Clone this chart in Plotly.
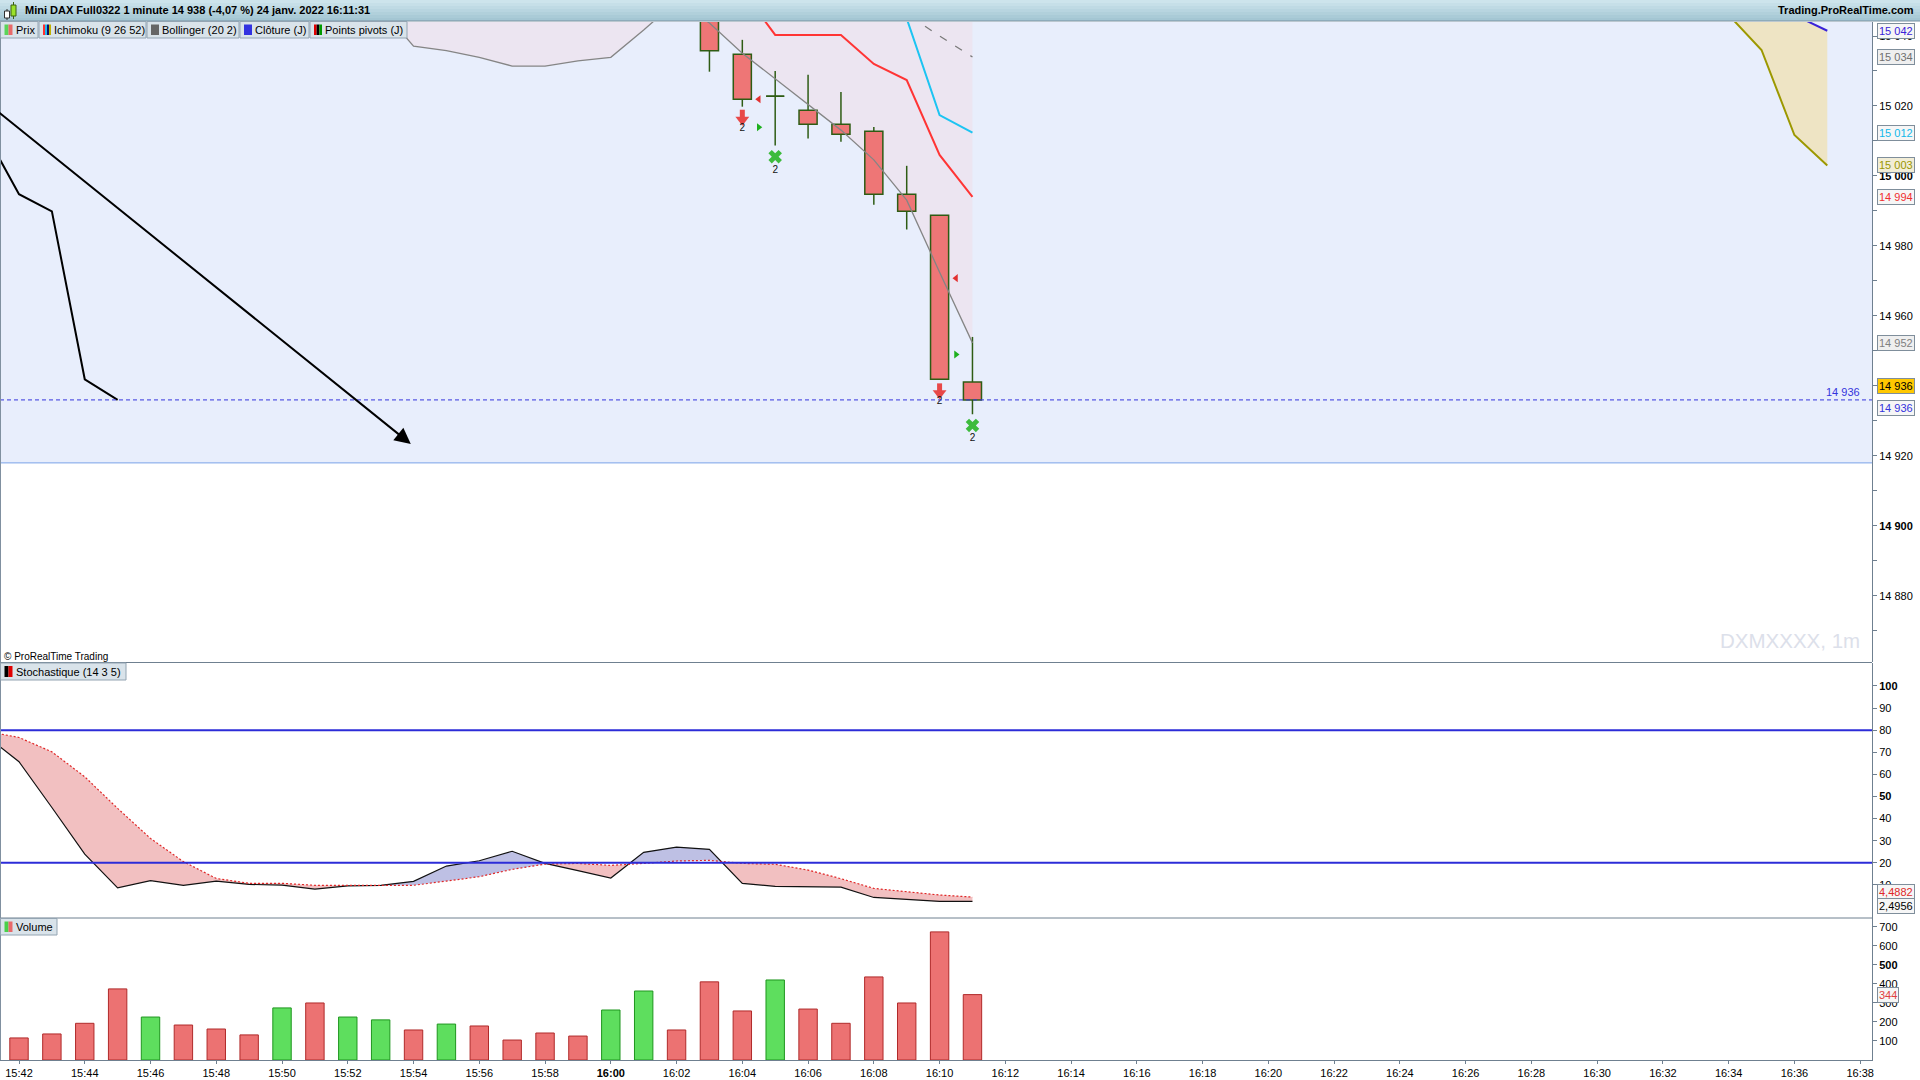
import pandas as pd
import plotly.graph_objects as go

DAY = "2022-01-24"

# ---------------- data ----------------
candle_times = ["16:03", "16:04", "16:05", "16:06", "16:07", "16:08", "16:09", "16:10", "16:11"]
candle_open = [15050.0, 15034.8, 15022.8, 15018.8, 15014.8, 15012.8, 14994.8, 14988.8, 14941.1]
candle_high = [15052.0, 15038.9, 15030.0, 15028.9, 15024.0, 15014.0, 15002.9, 14988.8, 14954.0]
candle_low = [15029.8, 15019.8, 15008.7, 15010.7, 15009.8, 14991.8, 14984.7, 14941.9, 14931.9]
candle_close = [15035.8, 15021.9, 15022.8, 15014.8, 15011.9, 14994.8, 14989.9, 14941.9, 14936.0]

# Bollinger (20 2)
bb_times = ["15:52", "15:53", "15:54", "15:55", "15:56", "15:57", "15:58", "15:59", "16:00", "16:01",
            "16:02", "16:03", "16:04", "16:05", "16:06", "16:07", "16:08", "16:09", "16:10", "16:11"]
bb_lower = [15058.0, 15048.0, 15037.1, 15035.8, 15033.9, 15031.4, 15031.4, 15032.9, 15033.9, 15041.7,
            15050.0, 15043.7, 15035.1, 15027.7, 15020.3, 15013.1, 15004.6, 14993.1, 14972.5, 14952.3]
bb_upper = [15130.0, 15128.0, 15126.0, 15124.0, 15122.0, 15121.0, 15120.0, 15120.0, 15119.0, 15118.0,
            15118.0, 15120.0, 15121.0, 15121.0, 15120.0, 15119.0, 15118.0, 15117.0, 15116.0, 15116.0]
bb_mid_times = ["16:07", "16:08", "16:09", "16:10", "16:11"]
bb_mid = [15062.0, 15053.0, 15046.3, 15040.0, 15034.0]

# Ichimoku (9 26 52)
tenkan_times = ["16:03", "16:04", "16:05", "16:06", "16:07", "16:08", "16:09", "16:10", "16:11"]
tenkan = [15060.0, 15053.0, 15040.3, 15040.3, 15040.3, 15032.0, 15027.4, 15006.0, 14994.0]
kijun_times = ["16:07", "16:08", "16:09", "16:10", "16:11"]
kijun = [15075.0, 15060.0, 15045.0, 15017.4, 15012.4]
senkou_times = ["16:33", "16:34", "16:35", "16:36", "16:37"]
senkou_a = [15060.0, 15046.0, 15036.0, 15011.7, 15003.0]
senkou_b = [15080.0, 15070.0, 15058.0, 15046.0, 15041.5]
chikou_shift_min = 26

# signals
arrow_times = ["16:04", "16:10"]
arrow_tips = [15015.1, 14936.9]
cross_times = ["16:05", "16:11"]
cross_prices = [15005.5, 14928.7]
signal_labels = ["2", "2"]
pivot_hi_times = ["16:04:30", "16:10:30"]
pivot_hi_prices = [15021.9, 14970.8]
pivot_lo_times = ["16:04:30", "16:10:30"]
pivot_lo_prices = [15013.9, 14949.0]

# drawn trend arrow
trend_start = ("15:41:00", 15021.1)
trend_end = ("15:53:55", 14923.4)

# blue zone lower bound
zone_low = 14918.0

# Stochastic (14 3 5)
stoch_times = ["15:41", "15:42", "15:43", "15:44", "15:45", "15:46", "15:47", "15:48", "15:49", "15:50",
               "15:51", "15:52", "15:53", "15:54", "15:55", "15:56", "15:57", "15:58", "15:59", "16:00",
               "16:01", "16:02", "16:03", "16:04", "16:05", "16:06", "16:07", "16:08", "16:09", "16:10", "16:11"]
stoch_k = [77.4, 65.7, 45.0, 23.9, 8.6, 11.9, 9.8, 11.7, 10.2, 9.9,
           8.1, 9.5, 9.8, 11.6, 18.5, 20.9, 25.2, 19.7, 16.4, 13.1,
           24.7, 27.1, 26.1, 10.7, 9.3, 9.0, 9.0, 4.3, 3.4, 2.5, 2.4956]
stoch_d = [79.5, 76.7, 70.2, 58.9, 44.6, 31.0, 20.5, 12.9, 10.7, 10.7,
           9.8, 9.7, 9.7, 9.8, 11.7, 13.7, 17.0, 19.4, 19.7, 18.8,
           19.7, 20.8, 21.1, 19.7, 19.3, 16.7, 12.8, 8.4, 6.9, 5.4, 4.4882]
stoch_levels = [80, 20]

# Volume
vol_times = ["15:42", "15:43", "15:44", "15:45", "15:46", "15:47", "15:48", "15:49", "15:50", "15:51",
             "15:52", "15:53", "15:54", "15:55", "15:56", "15:57", "15:58", "15:59", "16:00", "16:01",
             "16:02", "16:03", "16:04", "16:05", "16:06", "16:07", "16:08", "16:09", "16:10", "16:11"]
vol_values = [116, 137, 193, 374, 226, 184, 163, 132, 274, 300,
              226, 211, 158, 189, 179, 105, 142, 126, 263, 363,
              158, 411, 258, 421, 268, 193, 437, 300, 674, 344]
vol_up = [0, 0, 0, 0, 1, 0, 0, 0, 1, 0,
          1, 1, 0, 1, 0, 0, 0, 0, 1, 1,
          0, 0, 0, 1, 0, 0, 0, 0, 0, 0]

# axis ticks
time_ticks = ["15:42", "15:44", "15:46", "15:48", "15:50", "15:52", "15:54", "15:56", "15:58", "16:00",
              "16:02", "16:04", "16:06", "16:08", "16:10", "16:12", "16:14", "16:16", "16:18", "16:20",
              "16:22", "16:24", "16:26", "16:28", "16:30", "16:32", "16:34", "16:36", "16:38"]
bold_time = "16:00"
price_ticks = [14880, 14900, 14920, 14940, 14960, 14980, 15000, 15020, 15040]
price_minor = [14870, 14890, 14910, 14930, 14950, 14970, 14990, 15010, 15030]
stoch_ticks = [10, 20, 30, 40, 50, 60, 70, 80, 90, 100]
vol_ticks = [100, 200, 300, 400, 500, 600, 700]

price_range = [14861.1, 15044.0]
stoch_range = [-5.0, 110.4]
vol_range = [0, 747]

title_text = "Mini DAX Full0322 1 minute 14 938 (-4,07 %) 24 janv. 2022 16:11:31"

# ---------------- helpers ----------------
FONT = "Liberation Sans, Arial, sans-serif"
W, H = 1920, 1080
PLOT_R = 1872
AXC = "#6F8090"
MAIN_TOP, MAIN_BOT = 22, 662
PX_PER_PT = (MAIN_BOT - MAIN_TOP) / (price_range[1] - price_range[0])


def t(s):
    return pd.Timestamp(f"{DAY} {s}")


def fx(p):
    return p / W


def fy(p):
    return 1 - p / H


def fmt_price(v):
    return f"{int(round(v)):,}".replace(",", " ")


t0 = t("15:42")
x_range = [t0 + pd.Timedelta(minutes=-0.578), t0 + pd.Timedelta(minutes=56.36)]
BODY_W = pd.Timedelta(minutes=0.55)
VOL_W = pd.Timedelta(minutes=0.56)

fig = go.Figure()
skip = dict(hoverinfo="skip", showlegend=False)

# ---- base layer fills (main panel) ----
fig.add_trace(go.Scatter(x=[t(s) for s in bb_times], y=bb_upper, mode="lines",
                         line=dict(width=0, color="rgba(0,0,0,0)"), yaxis="y", **skip))
fig.add_trace(go.Scatter(x=[t(s) for s in bb_times], y=bb_lower, mode="lines",
                         line=dict(width=0, color="rgba(0,0,0,0)"), fill="tonexty",
                         fillcolor="#ECE5F1", yaxis="y", **skip))
fig.add_trace(go.Scatter(x=[t(s) for s in senkou_times], y=senkou_b, mode="lines",
                         line=dict(width=0, color="rgba(0,0,0,0)"), yaxis="y", **skip))
fig.add_trace(go.Scatter(x=[t(s) for s in senkou_times], y=senkou_a, mode="lines",
                         line=dict(width=0, color="rgba(0,0,0,0)"), fill="tonexty",
                         fillcolor="#EEE4C4", yaxis="y", **skip))

# ---- candles (overlay axis y4) ----
ct = [t(s) for s in candle_times]
body_base = [min(o, c) for o, c in zip(candle_open, candle_close)]
body_h = [abs(c - o) for o, c in zip(candle_open, candle_close)]
fig.add_trace(go.Bar(x=ct, y=body_h, base=body_base, width=BODY_W.total_seconds() * 1000,
                     marker=dict(color="#EE7676", line=dict(color="#2E5C14", width=1.5)),
                     yaxis="y4", **skip))
wx, wy = [], []
for x, o, h, l, c in zip(ct, candle_open, candle_high, candle_low, candle_close):
    top, bot = max(o, c), min(o, c)
    if h > top:
        wx += [x, x, None]
        wy += [top, h, None]
    if l < bot:
        wx += [x, x, None]
        wy += [bot, l, None]
    if o == c:
        wx += [x - BODY_W / 2, x + BODY_W / 2, None]
        wy += [c, c, None]
fig.add_trace(go.Scatter(x=wx, y=wy, mode="lines", line=dict(color="#2E5C14", width=1.5),
                         yaxis="y4", **skip))

# ---- indicator lines ----
fig.add_trace(go.Scatter(x=[t(s) for s in bb_times], y=bb_lower, mode="lines",
                         line=dict(color="#858585", width=1.3), yaxis="y4", **skip))
fig.add_trace(go.Scatter(x=[t(s) for s in bb_mid_times], y=bb_mid, mode="lines",
                         line=dict(color="#7A7A7A", width=1.3, dash="8px,10px"), yaxis="y4", **skip))
fig.add_trace(go.Scatter(x=[t(s) for s in tenkan_times], y=tenkan, mode="lines",
                         line=dict(color="#FF3535", width=2), yaxis="y4", **skip))
fig.add_trace(go.Scatter(x=[t(s) for s in kijun_times], y=kijun, mode="lines",
                         line=dict(color="#1CC4F2", width=2), yaxis="y4", **skip))
fig.add_trace(go.Scatter(x=[t(s) - pd.Timedelta(minutes=chikou_shift_min) for s in candle_times],
                         y=candle_close, mode="lines", line=dict(color="#000000", width=2),
                         yaxis="y4", **skip))
fig.add_trace(go.Scatter(x=[t(s) for s in senkou_times], y=senkou_a, mode="lines",
                         line=dict(color="#9C9800", width=2), yaxis="y4", **skip))
fig.add_trace(go.Scatter(x=[t(s) for s in senkou_times], y=senkou_b, mode="lines",
                         line=dict(color="#3A22D8", width=2), yaxis="y4", **skip))

# ---- signals ----
fig.add_trace(go.Scatter(x=[t(s) for s in pivot_hi_times], y=pivot_hi_prices, mode="markers",
                         marker=dict(symbol="triangle-left", size=7, color="#E23030"),
                         yaxis="y4", **skip))
fig.add_trace(go.Scatter(x=[t(s) for s in pivot_lo_times], y=pivot_lo_prices, mode="markers",
                         marker=dict(symbol="triangle-right", size=7, color="#1EB01E"),
                         yaxis="y4", **skip))
at = [t(s) for s in arrow_times]
fig.add_trace(go.Scatter(x=at, y=[p + 8.5 / PX_PER_PT for p in arrow_tips], mode="markers",
                         marker=dict(symbol="line-ns", size=7, color="#E84848",
                                     line=dict(color="#E84848", width=5)),
                         yaxis="y4", **skip))
fig.add_trace(go.Scatter(x=at, y=[p + 3.5 / PX_PER_PT for p in arrow_tips], mode="markers",
                         marker=dict(symbol="triangle-down", size=12, color="#E84848"),
                         yaxis="y4", **skip))
fig.add_trace(go.Scatter(x=at, y=[p - 5 / PX_PER_PT for p in arrow_tips], mode="text",
                         text=signal_labels, textposition="middle center",
                         textfont=dict(size=10, color="#111111", family=FONT),
                         yaxis="y4", **skip))
fig.add_trace(go.Scatter(x=[t(s) for s in cross_times], y=cross_prices, mode="markers+text",
                         marker=dict(symbol="x", size=12, color="#3DBB3D", line=dict(width=0)),
                         text=signal_labels, textposition="bottom center",
                         textfont=dict(size=10, color="#111111", family=FONT),
                         yaxis="y4", **skip))

# ---- stochastic ----
st = [t(s) for s in stoch_times]


def split_fill(xs, k, d):
    out = []
    sx, sk, sd = [xs[0]], [k[0]], [d[0]]
    up = k[0] >= d[0]
    for i in range(1, len(xs)):
        now = k[i] >= d[i]
        if now != up:
            dk = k[i] - k[i - 1]
            dd = d[i] - d[i - 1]
            f = (d[i - 1] - k[i - 1]) / (dk - dd)
            xc = xs[i - 1] + (xs[i] - xs[i - 1]) * f
            yc = k[i - 1] + dk * f
            sx.append(xc); sk.append(yc); sd.append(yc)
            out.append((sx, sk, sd, up))
            sx, sk, sd = [xc], [yc], [yc]
            up = now
        sx.append(xs[i]); sk.append(k[i]); sd.append(d[i])
    out.append((sx, sk, sd, up))
    return out


for sx, sk, sd, up in split_fill(st, stoch_k, stoch_d):
    fig.add_trace(go.Scatter(x=sx + sx[::-1], y=sk + sd[::-1], mode="lines", fill="toself",
                             fillcolor="#BEC0E4" if up else "#F2C0C1",
                             line=dict(width=0, color="rgba(0,0,0,0)"), yaxis="y2", **skip))
fig.add_trace(go.Scatter(x=st, y=stoch_k, mode="lines", line=dict(color="#111111", width=1.2),
                         yaxis="y2", **skip))
fig.add_trace(go.Scatter(x=st, y=stoch_d, mode="lines",
                         line=dict(color="#E02828", width=1.2, dash="2px,2px"),
                         yaxis="y2", **skip))

# ---- volume ----
vt = [t(s) for s in vol_times]
for flag, col, lc in [(0, "#EC7272", "#B02A2A"), (1, "#5EDE5E", "#1E961E")]:
    fig.add_trace(go.Bar(x=[x for x, u in zip(vt, vol_up) if u == flag],
                         y=[v for v, u in zip(vol_values, vol_up) if u == flag],
                         width=VOL_W.total_seconds() * 1000,
                         marker=dict(color=col, line=dict(color=lc, width=1)),
                         yaxis="y3", **skip))

# ---------------- axes ----------------
tickfont = dict(size=11, color="#000000", family=FONT)


def yax(domain, rng, vals, text, **kw):
    d = dict(domain=domain, range=rng, autorange=False, anchor="x", side="right",
             tickmode="array", tickvals=vals, ticktext=text, ticks="outside", ticklen=4,
             tickcolor=AXC, showline=True, linecolor=AXC, linewidth=1, showgrid=False,
             zeroline=False, tickfont=tickfont, fixedrange=True, automargin=False)
    d.update(kw)
    return d


price_text = [f"<b>{fmt_price(v)}</b>" if v % 100 == 0 else fmt_price(v) for v in price_ticks]
stoch_text = [f"<b>{v}</b>" if v in (50, 100) else str(v) for v in stoch_ticks]
vol_text = [f"<b>{v}</b>" if v == 500 else str(v) for v in vol_ticks]

fig.update_layout(
    width=W, height=H, autosize=False,
    margin=dict(l=0, r=0, t=0, b=0, pad=0),
    paper_bgcolor="#FFFFFF", plot_bgcolor="rgba(0,0,0,0)",
    barmode="overlay", showlegend=False,
    font=dict(family=FONT, size=11, color="#000000"),
    xaxis=dict(domain=[0, fx(PLOT_R)], anchor="y3", type="date", range=x_range,
               tickmode="array", tickvals=[t(s) for s in time_ticks],
               ticktext=[f"<b>{s}</b>" if s == bold_time else s for s in time_ticks],
               ticks="outside", ticklen=3, tickcolor=AXC, showline=True, linecolor=AXC,
               showgrid=False, zeroline=False, tickfont=tickfont, fixedrange=True,
               automargin=False),
    yaxis=yax([fy(MAIN_BOT), fy(MAIN_TOP)], price_range, price_ticks, price_text,
              minor=dict(tickmode="array", tickvals=price_minor, ticks="outside", ticklen=4,
                         tickcolor=AXC)),
    yaxis2=yax([fy(918), fy(663)], stoch_range, stoch_ticks, stoch_text),
    yaxis3=yax([fy(1060), fy(918)], vol_range, vol_ticks, vol_text),
    yaxis4=dict(overlaying="y", anchor="x", range=price_range, autorange=False, visible=False,
                fixedrange=True),
)

# ---------------- shapes ----------------
shapes = []
shapes.append(dict(type="rect", xref="x", yref="y", x0=x_range[0], x1=x_range[1],
                   y0=zone_low, y1=price_range[1], fillcolor="#E8EEFC", line=dict(width=0),
                   layer="below"))
shapes.append(dict(type="line", xref="x", yref="y", x0=x_range[0], x1=x_range[1],
                   y0=zone_low, y1=zone_low, line=dict(color="#7AA4E8", width=1), layer="below"))
shapes.append(dict(type="line", xref="paper", yref="y", x0=0, x1=fx(PLOT_R),
                   y0=candle_close[-1], y1=candle_close[-1],
                   line=dict(color="#3434DD", width=1, dash="4px,3px")))
for lv in stoch_levels:
    shapes.append(dict(type="line", xref="paper", yref="y2", x0=0, x1=fx(PLOT_R), y0=lv, y1=lv,
                       line=dict(color="#2C2CD8", width=2)))
bar_cols = ["#CDE4EC", "#C6DFE8", "#BFDAE4", "#B8D5E0", "#B1D0DB", "#AACBD7", "#A4C6D3"]
for i, col in enumerate(bar_cols):
    shapes.append(dict(type="rect", xref="paper", yref="paper", x0=0, x1=1,
                       y0=fy(3 * (i + 1)), y1=fy(3 * i), fillcolor=col, line=dict(width=0)))
shapes.append(dict(type="line", xref="paper", yref="paper", x0=0, x1=1, y0=fy(21), y1=fy(21),
                   line=dict(color="#7890A0", width=1)))
for yy in [662.5, 918]:
    shapes.append(dict(type="line", xref="paper", yref="paper", x0=0, x1=fx(PLOT_R),
                       y0=fy(yy), y1=fy(yy), line=dict(color=AXC, width=1)))
shapes.append(dict(type="line", xref="paper", yref="paper", x0=fx(0.5), x1=fx(0.5),
                   y0=fy(1060), y1=fy(21), line=dict(color="#8090A0", width=1)))
# title icon
shapes.append(dict(type="line", xref="paper", yref="paper", x0=fx(7), x1=fx(7), y0=fy(20), y1=fy(9),
                   line=dict(color="#303030", width=1)))
shapes.append(dict(type="rect", xref="paper", yref="paper", x0=fx(4.5), x1=fx(9.5), y0=fy(18),
                   y1=fy(11), fillcolor="#FFFFFF", line=dict(color="#303030", width=1)))
shapes.append(dict(type="line", xref="paper", yref="paper", x0=fx(13.5), x1=fx(13.5), y0=fy(19),
                   y1=fy(2), line=dict(color="#3A6010", width=1)))
shapes.append(dict(type="rect", xref="paper", yref="paper", x0=fx(11), x1=fx(16), y0=fy(16),
                   y1=fy(5), fillcolor="#9AE22A", line=dict(color="#3A6010", width=1)))

annotations = []


def tab(x0, x1, y0, y1, colors, text):
    shapes.append(dict(type="rect", xref="paper", yref="paper", x0=fx(x0), x1=fx(x1),
                       y0=fy(y1), y1=fy(y0), fillcolor="#D9E3EA", line=dict(color="#93A4B2", width=1)))
    n = len(colors)
    sw = 8 / n
    for i, c in enumerate(colors):
        shapes.append(dict(type="rect", xref="paper", yref="paper", x0=fx(x0 + 4 + i * sw),
                           x1=fx(x0 + 4 + (i + 1) * sw), y0=fy(y1 - 3), y1=fy(y0 + 3),
                           fillcolor=c, line=dict(width=0)))
    annotations.append(dict(x=fx(x0 + 13), y=fy((y0 + y1) / 2), xref="paper", yref="paper",
                            xanchor="left", yanchor="middle", text=text, showarrow=False,
                            font=dict(size=11, color="#000000", family=FONT)))


tab(0.5, 38, 21.5, 38, ["#5AD45A", "#E86A6A"], "Prix")
tab(39, 146, 21.5, 38, ["#FF3030", "#20B8F0", "#101060", "#C0B000"], "Ichimoku (9 26 52)")
tab(147, 239, 21.5, 38, ["#666666"], "Bollinger (20 2)")
tab(240, 309, 21.5, 38, ["#3232E0"], "Clôture (J)")
tab(310, 407, 21.5, 38, ["#E00000", "#000000", "#009A00"], "Points pivots (J)")
tab(0.5, 126, 663, 680, ["#000000", "#E00000"], "Stochastique (14 3 5)")
tab(0.5, 57, 918.5, 935, ["#4AD04A", "#E86A6A"], "Volume")

annotations.append(dict(x=fx(23), y=fy(10.5), xref="paper", yref="paper", xanchor="left",
                        yanchor="middle", text=f"<b>{title_text}</b>", showarrow=False,
                        font=dict(size=11, color="#000000", family=FONT)))
annotations.append(dict(x=fx(1916), y=fy(10.5), xref="paper", yref="paper", xanchor="right",
                        yanchor="middle", text="<b>Trading.ProRealTime.com</b>", showarrow=False,
                        font=dict(size=11, color="#000000", family=FONT)))
annotations.append(dict(x=fx(2), y=fy(656), xref="paper", yref="paper", xanchor="left",
                        yanchor="middle", text="© ProRealTime Trading", showarrow=False,
                        font=dict(size=10, color="#000000", family=FONT)))
annotations.append(dict(x=fx(1862), y=fy(640), xref="paper", yref="paper", xanchor="right",
                        yanchor="middle", text="DXMXXXX, 1m", showarrow=False,
                        font=dict(size=20.5, color="#DCE0EA", family=FONT)))
annotations.append(dict(x=fx(1862), y=candle_close[-1], xref="paper", yref="y", xanchor="right",
                        yanchor="bottom", text=fmt_price(candle_close[-1]), showarrow=False,
                        font=dict(size=11, color="#3434DD", family=FONT)))
annotations.append(dict(x=t(trend_end[0]), y=trend_end[1], ax=t(trend_start[0]), ay=trend_start[1],
                        xref="x", yref="y", axref="x", ayref="y", text="", showarrow=True,
                        arrowhead=2, arrowsize=1.6, arrowwidth=2, arrowcolor="#000000"))


def axis_box(value, text, yref, color, bg="#F6F6F6", yshift=0):
    annotations.append(dict(x=fx(1877), xref="paper", xanchor="left", y=value, yref=yref,
                            yanchor="middle", text=text, showarrow=False, yshift=yshift,
                            font=dict(size=11, color=color, family=FONT), bgcolor=bg,
                            bordercolor="#7F8E9B", borderwidth=1, borderpad=1))


axis_box(senkou_b[-1], fmt_price(senkou_b[-1]), "y", "#3A22D8")
axis_box(bb_mid[-1], fmt_price(bb_mid[-1]), "y", "#707070", bg="#EFEFEF")
axis_box(kijun[-1], fmt_price(kijun[-1]), "y", "#12B8EA")
axis_box(senkou_a[-1], fmt_price(senkou_a[-1]), "y", "#9A9600", bg="#F2EDD6")
axis_box(tenkan[-1], fmt_price(tenkan[-1]), "y", "#F03030")
axis_box(bb_lower[-1], fmt_price(bb_lower[-1]), "y", "#808080", bg="#EFEFEF")
axis_box(candle_close[-1], fmt_price(candle_close[-1]), "y", "#000000", bg="#FFC800", yshift=14)
axis_box(candle_close[-1], fmt_price(candle_close[-1]), "y", "#3434DD", yshift=-8)
axis_box(stoch_d[-1], f"{stoch_d[-1]:.4f}".replace(".", ","), "y2", "#E02828", yshift=5)
axis_box(stoch_k[-1], f"{stoch_k[-1]:.4f}".replace(".", ","), "y2", "#000000", yshift=-5)
axis_box(vol_values[-1], str(vol_values[-1]), "y3", "#E04040")

fig.update_layout(shapes=shapes, annotations=annotations)
fig.write_html("out.html",
               config={"displayModeBar": False},
               post_script="document.body.style.margin='0';document.body.style.padding='0';"
                           "document.body.style.overflow='hidden';"
                           "document.documentElement.style.overflow='hidden';")
